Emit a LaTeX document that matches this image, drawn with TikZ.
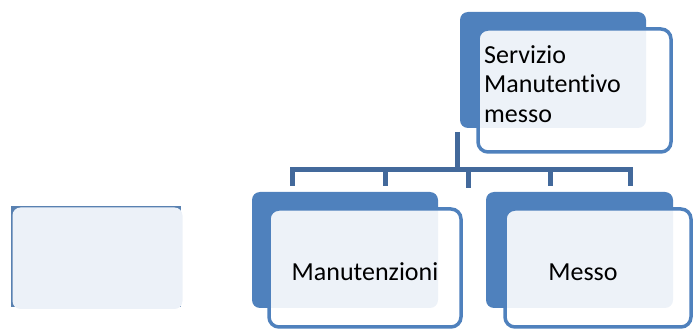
\documentclass[tikz,border=0pt]{standalone}
\usepackage{fontspec}
\setmainfont{Carlito}[Ligatures={NoCommon,NoRequired,NoContextual}]
\definecolor{boxblue}{HTML}{4F81BD}
\definecolor{linkblue}{HTML}{43699B}
\definecolor{paleblue}{HTML}{ECF1F8}
\tikzset{
	backbox/.style={fill=boxblue,rounded corners=8pt},
	frontbox/.style={draw=boxblue,line width=3.5pt,fill=white,fill opacity=0.9,draw opacity=1,rounded corners=10pt},
	link/.style={draw=linkblue,line width=5pt},
	label/.style={inner sep=0pt,text=black,font=\fontsize{26}{29.5}\selectfont}
}
\begin{document}
\begin{tikzpicture}[x=1pt,y=-1pt]
	\useasboundingbox (0,0) rectangle (694,331);
	% empty box on the left
	\fill[boxblue!80!gray] (11,206) rectangle (181,307);
	\fill[paleblue,rounded corners=8pt] (12.5,207.5) rectangle (182.5,309);
	% top box
	\fill[backbox] (460,12) rectangle (646,128);
	\draw[frontbox] (478,29) rectangle (671,152);
	\node[label,align=left,anchor=north west] (srv) at (484,45) {Servizio\\Manutentivo\\messo};
	% children
	\fill[backbox] (252,192) rectangle (438,308);
	\draw[frontbox] (269,209) rectangle (461,327);
	\node[label] (man) at (365,272) {Manutenzioni};
	\fill[backbox] (486,192) rectangle (673,308);
	\draw[frontbox] (505,209) rectangle (691,327);
	\node[label] (mes) at (583,272) {Messo};
	% connectors
	\coordinate (top) at (457.5,132);
	\coordinate (bar) at (457.5,170);
	\draw[link] (top) -- (bar);
	\draw[link] (292,186) |- (630,170) -- (630,186);
	\foreach \x/\y in {385/186,468/188,550/186}
		\draw[link] (\x,170) -- (\x,\y);
\end{tikzpicture}
\end{document}
